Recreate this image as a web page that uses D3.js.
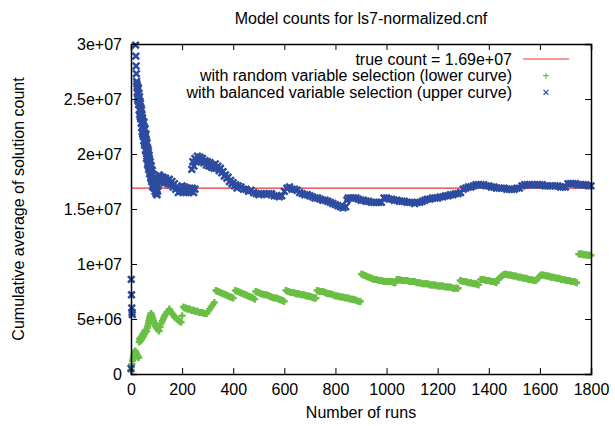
<!DOCTYPE html>
<html>
<head>
<meta charset="utf-8">
<script src="https://cdn.jsdelivr.net/npm/d3@7"></script>
<style>
  body { margin: 0; background: #fff; }
  text { font-family: "Liberation Sans", Arial, sans-serif; fill: #000; }
</style>
</head>
<body>
<div id="chart"></div>
<script>
// values: [run, cumulative average in millions]
const trueCount = 16.9;

const balanced = [
  [0, 0.5], [1, 8.6], [2, 7.2], [3, 6.0], [4, 5.6], [5, 5.4], [8, 31.5], [12, 33.0], [16, 31.0],
  [18, 29.9], [19, 28.9], [20, 28.0], [21, 27.3], [22, 26.6],
  [23, 26.4], [24, 25.6], [25, 26.2], [26, 25.0], [27, 25.9], [28, 24.8], [29, 26.0], [30, 24.5],
  [31, 25.5], [32, 24.0], [33, 25.2], [34, 23.6], [35, 24.8], [36, 23.4], [37, 24.6], [38, 23.2],
  [39, 24.2], [40, 22.8], [41, 24.0], [42, 22.4], [43, 23.6], [44, 22.0], [45, 23.3], [46, 21.8],
  [47, 23.0], [48, 21.6], [49, 22.6], [50, 21.2], [51, 22.9], [52, 22.2], [53, 21.0], [54, 20.8],
  [55, 22.3], [56, 21.6], [57, 20.3], [58, 20.4], [59, 21.8], [60, 21.2], [61, 19.6], [62, 19.8],
  [63, 21.0], [64, 20.6], [65, 19.0], [66, 19.2], [67, 20.4], [68, 20.2], [69, 18.6], [70, 18.8],
  [71, 19.9], [72, 19.6], [73, 18.2], [74, 18.4], [75, 19.3], [76, 19.0], [77, 17.8], [78, 18.0],
  [79, 18.9], [80, 18.6], [81, 17.5], [82, 17.6], [83, 18.5], [84, 18.2], [85, 17.0], [86, 17.2],
  [88, 17.8], [90, 16.9],
  [92, 17.4], [94, 16.6], [96, 17.0], [98, 16.4], [100, 16.8], [102, 16.3], [104, 16.6], [106, 17.2],
  [108, 17.8], [110, 18.1], [112, 17.6], [114, 18.0], [116, 17.4], [118, 17.9], [120, 17.5],
  [125, 17.9], [130, 17.4], [135, 17.8], [140, 17.6], [145, 17.3], [150, 17.7], [155, 17.2],
  [160, 17.5], [165, 17.0], [170, 17.3], [175, 16.8], [180, 17.0], [185, 16.5], [190, 16.8],
  [195, 16.6], [200, 17.1], [205, 16.6], [210, 17.0], [215, 16.5], [220, 16.9], [225, 16.5],
  [230, 16.9], [235, 16.6], [240, 16.9], [245, 16.5], [250, 16.8],
  [238, 18.6], [242, 19.3], [246, 18.9], [250, 19.6], [255, 19.3], [260, 19.8], [265, 19.4],
  [270, 19.7], [275, 19.3], [280, 19.6], [285, 19.2], [290, 19.4], [295, 19.0], [300, 19.3],
  [305, 18.9], [310, 19.2], [315, 18.8], [320, 19.0], [325, 18.7], [330, 19.1], [335, 18.7],
  [340, 18.9], [345, 18.5], [350, 18.7], [355, 18.3], [360, 18.4], [365, 18.0], [370, 18.1],
  [375, 17.8], [380, 17.9], [385, 17.5], [390, 17.6], [395, 17.3], [400, 17.4], [405, 17.1],
  [410, 17.2], [415, 16.9], [420, 17.1],
  [430, 17.0], [440, 16.8], [450, 16.8], [460, 16.6], [470, 16.7], [480, 16.5], [490, 16.4],
  [500, 16.3], [510, 16.4], [520, 16.4], [530, 16.3], [540, 16.4], [550, 16.4], [560, 16.2],
  [570, 16.2], [580, 16.1], [590, 16.2], [600, 16.6], [610, 16.9], [620, 17.0], [630, 16.8],
  [640, 16.8], [650, 16.7], [660, 16.5], [670, 16.4], [680, 16.3], [690, 16.3], [700, 16.2],
  [710, 16.1], [720, 16.0], [730, 16.0], [740, 15.9], [750, 15.8], [760, 15.8], [770, 15.7],
  [780, 15.6], [790, 15.5], [800, 15.4], [810, 15.3], [820, 15.2], [830, 15.1], [840, 15.2],
  [845, 15.8], [850, 16.0], [860, 16.0], [870, 16.0], [880, 16.0], [890, 15.9], [900, 15.8],
  [910, 15.8], [920, 15.7], [930, 15.7], [940, 15.6], [950, 15.6], [960, 15.6], [970, 15.6],
  [980, 15.6], [990, 16.0], [1000, 16.0], [1010, 15.9], [1020, 15.9], [1030, 15.8], [1040, 15.8],
  [1050, 15.7], [1060, 15.7], [1070, 15.7], [1080, 15.6], [1090, 15.6], [1100, 15.6], [1110, 15.5],
  [1120, 15.6], [1130, 15.6], [1140, 15.7], [1150, 15.8], [1160, 15.9], [1170, 15.9], [1180, 16.0],
  [1190, 16.0], [1200, 16.0], [1210, 16.1], [1220, 16.1], [1230, 16.2], [1240, 16.2], [1250, 16.3],
  [1260, 16.3], [1270, 16.4], [1280, 16.4], [1290, 16.5], [1300, 16.8], [1310, 16.9], [1320, 17.0],
  [1330, 17.0], [1340, 17.1], [1350, 17.2], [1360, 17.2], [1370, 17.2], [1380, 17.2], [1390, 17.1],
  [1400, 17.1], [1410, 17.0], [1420, 17.0], [1430, 16.9], [1440, 16.9], [1450, 16.9], [1460, 16.9],
  [1470, 16.8], [1480, 16.8], [1490, 16.8], [1500, 16.8], [1510, 16.9], [1520, 16.9], [1530, 17.1],
  [1540, 17.2], [1550, 17.2], [1560, 17.2], [1570, 17.2], [1580, 17.2], [1590, 17.2], [1600, 17.2],
  [1610, 17.2], [1620, 17.1], [1630, 17.1], [1640, 17.1], [1650, 17.1], [1660, 17.1], [1670, 17.1],
  [1680, 17.0], [1690, 17.0], [1700, 17.0], [1710, 17.3], [1720, 17.3], [1730, 17.3], [1740, 17.3],
  [1750, 17.2], [1760, 17.2], [1770, 17.2], [1780, 17.2], [1790, 17.1], [1800, 17.1]
];

const random = [
  [0, 0.3], [2, 0.6], [4, 0.9], [6, 1.2], [8, 1.4], [10, 1.6], [12, 1.8], [14, 2.0], [16, 2.1],
  [18, 2.0], [20, 1.9], [22, 1.8], [24, 1.7], [26, 1.6], [28, 1.5], [30, 1.5],
  [32, 2.9], [34, 3.2], [36, 3.0], [38, 3.3], [40, 3.1], [42, 3.4], [44, 3.3], [46, 3.6], [48, 3.4],
  [50, 3.7], [52, 3.6], [54, 3.9], [56, 3.8], [58, 4.0], [60, 3.9],
  [62, 3.9], [64, 4.2], [66, 4.4], [68, 4.6], [70, 4.8], [72, 5.0], [74, 5.2], [76, 5.3], [78, 5.5],
  [80, 5.4], [83, 5.2], [86, 5.0], [89, 4.8], [92, 4.6], [95, 4.4], [98, 4.3], [101, 4.2],
  [104, 4.1], [107, 4.0], [110, 3.9],
  [114, 4.3], [118, 4.6], [122, 4.8], [126, 5.0], [130, 5.2], [134, 5.4], [140, 5.6],
  [146, 5.7], [150, 5.9], [155, 5.7], [160, 5.5], [165, 5.4], [170, 5.2], [175, 5.1], [180, 5.0],
  [185, 4.9], [190, 4.8], [196, 4.7],
  [200, 5.3], [205, 6.1], [210, 6.0], [215, 6.0], [220, 5.9], [225, 5.9], [230, 5.9], [235, 5.8],
  [240, 5.8], [245, 5.8], [250, 5.7], [255, 5.7], [260, 5.7], [265, 5.6], [270, 5.6], [275, 5.6],
  [280, 5.6], [285, 5.5], [290, 5.5],
  [296, 5.5], [302, 5.7], [308, 5.9], [314, 6.1], [320, 6.3], [326, 6.5],
  [332, 7.6], [336, 7.55], [340, 7.5], [345, 7.45], [350, 7.4], [355, 7.35], [360, 7.3], [365, 7.25],
  [370, 7.2], [375, 7.15], [380, 7.1], [385, 7.05], [390, 7.0], [395, 6.95], [400, 6.9],
  [408, 7.6], [413, 7.55], [418, 7.5], [423, 7.45], [428, 7.4], [433, 7.35], [438, 7.3], [443, 7.25],
  [448, 7.2], [453, 7.15], [458, 7.1], [463, 7.05], [468, 7.0], [473, 6.95], [478, 6.9], [484, 6.8],
  [488, 7.5], [493, 7.45], [498, 7.4], [504, 7.35], [510, 7.3], [515, 7.25], [520, 7.2], [525, 7.2],
  [530, 7.2], [535, 7.15], [540, 7.1], [545, 7.05], [550, 7.0], [555, 6.95], [560, 6.9], [565, 6.9],
  [570, 6.9], [575, 6.85], [580, 6.8], [585, 6.75], [590, 6.7], [595, 6.65], [600, 6.6],
  [606, 7.6], [611, 7.55], [616, 7.5], [621, 7.45], [626, 7.4], [631, 7.4], [636, 7.4], [641, 7.35],
  [646, 7.3], [651, 7.3], [656, 7.3], [661, 7.25], [666, 7.2], [671, 7.2], [676, 7.2], [681, 7.15],
  [686, 7.1], [691, 7.1], [696, 7.1], [701, 7.05], [706, 7.0], [711, 6.95], [716, 6.9], [720, 6.9],
  [724, 6.9],
  [728, 7.6], [734, 7.55], [740, 7.5], [745, 7.5], [750, 7.5], [755, 7.45], [760, 7.4], [765, 7.35],
  [770, 7.3], [775, 7.3], [780, 7.3], [785, 7.25], [790, 7.2], [795, 7.15], [800, 7.1], [805, 7.1],
  [810, 7.1], [815, 7.05], [820, 7.0], [825, 7.0], [830, 7.0], [835, 6.95], [840, 6.9], [845, 6.9],
  [850, 6.9], [855, 6.85], [860, 6.8], [865, 6.8], [870, 6.8], [875, 6.75], [880, 6.7], [885, 6.65],
  [890, 6.6], [894, 6.6], [898, 6.6],
  [902, 9.1], [906, 9.05], [910, 9.0], [915, 8.95], [920, 8.9], [925, 8.85], [930, 8.8], [935, 8.75],
  [940, 8.7], [945, 8.65], [950, 8.6], [955, 8.6], [960, 8.6], [965, 8.55], [970, 8.5], [975, 8.5],
  [980, 8.5], [985, 8.45], [990, 8.4], [995, 8.4], [1000, 8.4], [1005, 8.4], [1010, 8.4],
  [1015, 8.4], [1020, 8.4], [1025, 8.35], [1030, 8.3], [1035, 8.3],
  [1040, 8.6], [1045, 8.6], [1050, 8.6], [1055, 8.55], [1060, 8.5], [1065, 8.5], [1070, 8.5],
  [1075, 8.5], [1080, 8.5], [1085, 8.45], [1090, 8.4], [1095, 8.4], [1100, 8.4], [1105, 8.4],
  [1110, 8.4], [1115, 8.35], [1120, 8.3], [1125, 8.3], [1130, 8.3], [1135, 8.25], [1140, 8.2],
  [1145, 8.2], [1150, 8.2], [1155, 8.2], [1160, 8.2], [1165, 8.15], [1170, 8.1], [1175, 8.1],
  [1180, 8.1], [1185, 8.1], [1190, 8.1], [1195, 8.05], [1200, 8.0], [1205, 8.0], [1210, 8.0],
  [1215, 8.0], [1220, 8.0], [1225, 7.95], [1230, 7.9], [1235, 7.9], [1240, 7.9], [1245, 7.9],
  [1250, 7.9], [1255, 7.85], [1260, 7.8], [1265, 7.8], [1270, 7.8], [1275, 7.8], [1280, 7.8],
  [1288, 8.5], [1294, 8.45], [1300, 8.4], [1305, 8.4], [1310, 8.4], [1315, 8.35], [1320, 8.3],
  [1325, 8.3], [1330, 8.3], [1335, 8.25], [1340, 8.2], [1345, 8.2], [1350, 8.2], [1355, 8.15],
  [1360, 8.1],
  [1368, 8.6], [1374, 8.6], [1380, 8.6], [1385, 8.55], [1390, 8.5], [1395, 8.5], [1400, 8.5],
  [1405, 8.45], [1410, 8.4], [1415, 8.4], [1420, 8.4], [1425, 8.35], [1430, 8.3],
  [1436, 8.6], [1441, 8.7], [1446, 8.8], [1451, 8.9], [1456, 9.0], [1461, 9.05], [1466, 9.1],
  [1471, 9.05], [1476, 9.0], [1481, 9.0], [1486, 9.0], [1491, 8.95], [1496, 8.9], [1501, 8.9],
  [1506, 8.9], [1511, 8.85], [1516, 8.8], [1521, 8.8], [1526, 8.8], [1531, 8.75], [1536, 8.7],
  [1541, 8.7], [1546, 8.7], [1551, 8.65], [1556, 8.6], [1561, 8.6], [1566, 8.6], [1571, 8.55],
  [1576, 8.5], [1581, 8.5], [1586, 8.5],
  [1596, 8.8], [1600, 8.9], [1604, 9.0], [1609, 9.0], [1614, 9.0], [1619, 8.95], [1624, 8.9],
  [1629, 8.9], [1634, 8.9], [1639, 8.85], [1644, 8.8], [1649, 8.8], [1654, 8.8], [1659, 8.75],
  [1664, 8.7], [1669, 8.7], [1674, 8.7], [1679, 8.65], [1684, 8.6], [1689, 8.6], [1694, 8.6],
  [1699, 8.55], [1704, 8.5], [1709, 8.5], [1714, 8.5], [1719, 8.45], [1724, 8.4], [1729, 8.4],
  [1734, 8.4], [1739, 8.35], [1744, 8.3],
  [1752, 10.9], [1756, 10.9], [1760, 10.9], [1765, 10.9], [1770, 10.85], [1775, 10.85],
  [1780, 10.85], [1785, 10.8], [1790, 10.8], [1795, 10.8], [1800, 10.8]
];

const xTicks = [0, 200, 400, 600, 800, 1000, 1200, 1400, 1600, 1800];
const yTicks = [0, 5, 10, 15, 20, 25, 30];
const yTickLabels = ["0", "5e+06", "1e+07", "1.5e+07", "2e+07", "2.5e+07", "3e+07"];
const legendLabels = [
  "true count = 1.69e+07",
  "with random variable selection (lower curve)",
  "with balanced variable selection (upper curve)"
];

const W = 615, H = 426;
const plotLeft = 131, plotRight = 591, plotTop = 44, plotBottom = 374;
const green = "#6abf44", blue = "#2d4c9f", red = "#f03030";

const svg = d3.select("#chart")
  .append("svg")
  .attr("width", W)
  .attr("height", H);

const x = d3.scaleLinear().domain([0, 1800]).range([plotLeft, plotRight]);
const y = d3.scaleLinear().domain([0, 30]).range([plotBottom, plotTop]);

// markers (plot points drawn a bit heavier so the dense runs merge into a band)
const plusPath = "M-3.5,0H3.5M0,-3.5V3.5";
const crossPath = "M-3.3,-3.3L3.3,3.3M-3.3,3.3L3.3,-3.3";
const plusKey = "M-3,0H3M0,-3V3";
const crossKey = "M-2.5,-2.5L2.5,2.5M-2.5,2.5L2.5,-2.5";
const inRange = d => d[1] >= 0 && d[1] <= 30;

// true count line
svg.append("line")
  .attr("x1", x(0)).attr("x2", x(1800))
  .attr("y1", y(trueCount)).attr("y2", y(trueCount))
  .attr("stroke", red).attr("stroke-width", 1.2);

svg.append("g").selectAll("path")
  .data(random.filter(inRange))
  .enter().append("path")
  .attr("d", plusPath)
  .attr("transform", d => `translate(${x(d[0])},${y(d[1])})`)
  .attr("stroke", green).attr("stroke-width", 2.4).attr("fill", "none");

svg.append("g").selectAll("path")
  .data(balanced.filter(inRange))
  .enter().append("path")
  .attr("d", crossPath)
  .attr("transform", d => `translate(${x(d[0])},${y(d[1])})`)
  .attr("stroke", blue).attr("stroke-width", 2.5).attr("fill", "none");

// axes: gnuplot style, ticks inward on all four sides
const xAxis = svg.append("g")
  .attr("transform", `translate(0,${plotBottom})`)
  .call(d3.axisBottom(x).tickValues(xTicks).tickSize(-6).tickPadding(10).tickFormat(d3.format("d")));
const xAxisTop = svg.append("g")
  .attr("transform", `translate(0,${plotTop})`)
  .call(d3.axisTop(x).tickValues(xTicks).tickSize(-6).tickFormat(""));
const yAxis = svg.append("g")
  .attr("transform", `translate(${plotLeft},0)`)
  .call(d3.axisLeft(y).tickValues(yTicks).tickSize(-6).tickPadding(9).tickFormat((d, i) => yTickLabels[i]));
const yAxisRight = svg.append("g")
  .attr("transform", `translate(${plotRight},0)`)
  .call(d3.axisRight(y).tickValues(yTicks).tickSize(-6).tickFormat(""));

[xAxis, xAxisTop, yAxis, yAxisRight].forEach(g => {
  g.select(".domain").attr("stroke", "#000").attr("stroke-width", 1.5);
  g.selectAll(".tick line").attr("stroke", "#000").attr("stroke-width", 1);
  g.selectAll(".tick text").attr("font-size", 16).attr("font-family", "Liberation Sans, Arial, sans-serif").attr("fill", "#000");
});

// titles
svg.append("text")
  .attr("x", 361).attr("y", 24)
  .attr("text-anchor", "middle")
  .attr("font-size", 16)
  .text("Model counts for ls7-normalized.cnf");

svg.append("text")
  .attr("x", 361).attr("y", 418)
  .attr("text-anchor", "middle")
  .attr("font-size", 16)
  .text("Number of runs");

svg.append("text")
  .attr("transform", "translate(24,209) rotate(-90)")
  .attr("text-anchor", "middle")
  .attr("font-size", 16)
  .text("Cumulative average of solution count");

// legend
const legend = svg.append("g");
legendLabels.forEach((label, i) => {
  const ly = 59 + i * 16.7;
  legend.append("text")
    .attr("x", 512).attr("y", ly + 5.5)
    .attr("text-anchor", "end")
    .attr("font-size", 16)
    .text(label);
});
legend.append("line")
  .attr("x1", 523).attr("x2", 569).attr("y1", 59).attr("y2", 59)
  .attr("stroke", red).attr("stroke-width", 1.2);
legend.append("path")
  .attr("d", plusKey).attr("transform", "translate(546,75.7)")
  .attr("stroke", green).attr("stroke-width", 1.2).attr("fill", "none");
legend.append("path")
  .attr("d", crossKey).attr("transform", "translate(546,92.4)")
  .attr("stroke", blue).attr("stroke-width", 1.2).attr("fill", "none");
</script>
</body>
</html>
